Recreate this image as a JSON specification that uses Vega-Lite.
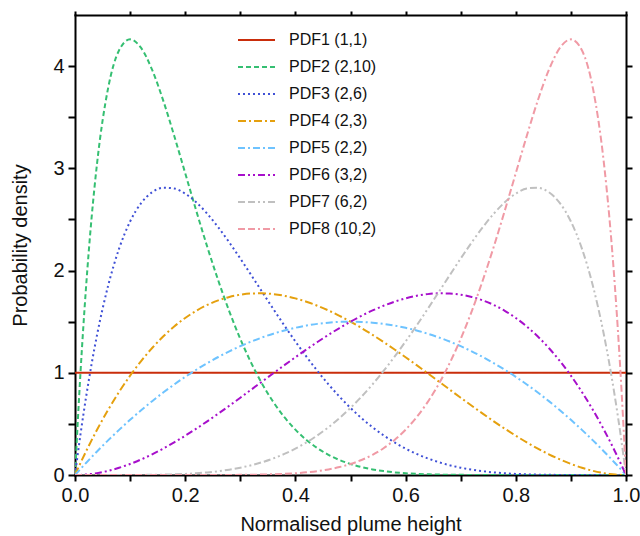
{
  "$schema": "https://vega.github.io/schema/vega-lite/v6.json",
  "width": 551,
  "height": 460,
  "autosize": {"type": "none"},
  "padding": {"left": 75, "top": 15, "right": 14, "bottom": 61},
  "background": "white",
  "config": {
    "view": {"stroke": null},
    "font": "Liberation Sans",
    "axis": {
      "labelFont": "Liberation Sans",
      "titleFont": "Liberation Sans",
      "labelFontSize": 20,
      "titleFontSize": 20,
      "titleFontWeight": "normal",
      "labelColor": "#111",
      "titleColor": "#111",
      "domainColor": "#000",
      "domainWidth": 2,
      "domainCap": "square",
      "tickColor": "#000",
      "tickWidth": 2,
      "grid": false
    },
    "legend": {
      "labelFont": "Liberation Sans",
      "labelFontSize": 16,
      "labelColor": "#111"
    }
  },
  "data": {
    "values": [
      {"x": 0, "p1": 1, "p2": 0, "p3": 0, "p4": 0, "p5": 0, "p6": 0, "p7": 0, "p8": 0},
      {"x": 0.01, "p1": 1, "p2": 1.005, "p3": 0.399, "p4": 0.1176, "p5": 0.0594, "p6": 0.0012, "p7": 0, "p8": 0},
      {"x": 0.02, "p1": 1, "p2": 1.834, "p3": 0.759, "p4": 0.2305, "p5": 0.1176, "p6": 0.0047, "p7": 0, "p8": 0},
      {"x": 0.03, "p1": 1, "p2": 2.509, "p3": 1.082, "p4": 0.3387, "p5": 0.1746, "p6": 0.0105, "p7": 0, "p8": 0},
      {"x": 0.04, "p1": 1, "p2": 3.047, "p3": 1.37, "p4": 0.4424, "p5": 0.2304, "p6": 0.0184, "p7": 0, "p8": 0},
      {"x": 0.06, "p1": 1, "p2": 3.782, "p3": 1.849, "p4": 0.6362, "p5": 0.3384, "p6": 0.0406, "p7": 0, "p8": 0},
      {"x": 0.08, "p1": 1, "p2": 4.155, "p3": 2.2145, "p4": 0.8125, "p5": 0.4416, "p6": 0.0707, "p7": 0.0001, "p8": 0},
      {"x": 0.1, "p1": 1, "p2": 4.2616, "p3": 2.48, "p4": 0.972, "p5": 0.54, "p6": 0.108, "p7": 0.0004, "p8": 0},
      {"x": 0.12, "p1": 1, "p2": 4.1776, "p3": 2.6598, "p4": 1.1151, "p5": 0.6336, "p6": 0.1521, "p7": 0.0009, "p8": 0},
      {"x": 0.14, "p1": 1, "p2": 3.963, "p3": 2.766, "p4": 1.2425, "p5": 0.7224, "p6": 0.2023, "p7": 0.0019, "p8": 0},
      {"x": 0.16, "p1": 1, "p2": 3.665, "p3": 2.81, "p4": 1.3548, "p5": 0.8064, "p6": 0.258, "p7": 0.0037, "p8": 0},
      {"x": 0.18, "p1": 1, "p2": 3.319, "p3": 2.803, "p4": 1.4524, "p5": 0.8856, "p6": 0.3188, "p7": 0.0065, "p8": 0},
      {"x": 0.2, "p1": 1, "p2": 2.953, "p3": 2.7525, "p4": 1.536, "p5": 0.96, "p6": 0.384, "p7": 0.0108, "p8": 0},
      {"x": 0.22, "p1": 1, "p2": 2.586, "p3": 2.668, "p4": 1.6062, "p5": 1.0296, "p6": 0.453, "p7": 0.0169, "p8": 0.0001},
      {"x": 0.24, "p1": 1, "p2": 2.233, "p3": 2.556, "p4": 1.6635, "p5": 1.0944, "p6": 0.5253, "p7": 0.0254, "p8": 0.0002},
      {"x": 0.26, "p1": 1, "p2": 1.903, "p3": 2.423, "p4": 1.7085, "p5": 1.1544, "p6": 0.6003, "p7": 0.0369, "p8": 0.0004},
      {"x": 0.28, "p1": 1, "p2": 1.6016, "p3": 2.2754, "p4": 1.7418, "p5": 1.2096, "p6": 0.6774, "p7": 0.052, "p8": 0.0008},
      {"x": 0.3, "p1": 1, "p2": 1.3317, "p3": 2.1177, "p4": 1.764, "p5": 1.26, "p6": 0.756, "p7": 0.0714, "p8": 0.0015},
      {"x": 0.32, "p1": 1, "p2": 1.0943, "p3": 1.954, "p4": 1.7756, "p5": 1.3056, "p6": 0.8356, "p7": 0.0958, "p8": 0.0026},
      {"x": 0.34, "p1": 1, "p2": 0.8887, "p3": 1.7883, "p4": 1.7772, "p5": 1.3464, "p6": 0.9156, "p7": 0.1259, "p8": 0.0044},
      {"x": 0.36, "p1": 1, "p2": 0.7134, "p3": 1.6234, "p4": 1.7695, "p5": 1.3824, "p6": 0.9953, "p7": 0.1625, "p8": 0.0072},
      {"x": 0.38, "p1": 1, "p2": 0.5659, "p3": 1.4621, "p4": 1.7529, "p5": 1.4136, "p6": 1.0743, "p7": 0.2063, "p8": 0.0113},
      {"x": 0.4, "p1": 1, "p2": 0.4434, "p3": 1.3064, "p4": 1.728, "p5": 1.44, "p6": 1.152, "p7": 0.258, "p8": 0.0173},
      {"x": 0.42, "p1": 1, "p2": 0.3432, "p3": 1.1578, "p4": 1.6955, "p5": 1.4616, "p6": 1.2277, "p7": 0.3184, "p8": 0.0259},
      {"x": 0.44, "p1": 1, "p2": 0.2621, "p3": 1.0177, "p4": 1.6558, "p5": 1.4784, "p6": 1.301, "p7": 0.3879, "p8": 0.0381},
      {"x": 0.46, "p1": 1, "p2": 0.1976, "p3": 0.8871, "p4": 1.6096, "p5": 1.4904, "p6": 1.3712, "p7": 0.4671, "p8": 0.0548},
      {"x": 0.48, "p1": 1, "p2": 0.1468, "p3": 0.7665, "p4": 1.5575, "p5": 1.4976, "p6": 1.4377, "p7": 0.5565, "p8": 0.0774},
      {"x": 0.5, "p1": 1, "p2": 0.1074, "p3": 0.6563, "p4": 1.5, "p5": 1.5, "p6": 1.5, "p7": 0.6563, "p8": 0.1074},
      {"x": 0.52, "p1": 1, "p2": 0.0774, "p3": 0.5565, "p4": 1.4377, "p5": 1.4976, "p6": 1.5575, "p7": 0.7665, "p8": 0.1468},
      {"x": 0.54, "p1": 1, "p2": 0.0548, "p3": 0.4671, "p4": 1.3712, "p5": 1.4904, "p6": 1.6096, "p7": 0.8871, "p8": 0.1976},
      {"x": 0.56, "p1": 1, "p2": 0.0381, "p3": 0.3879, "p4": 1.301, "p5": 1.4784, "p6": 1.6558, "p7": 1.0177, "p8": 0.2621},
      {"x": 0.58, "p1": 1, "p2": 0.0259, "p3": 0.3184, "p4": 1.2277, "p5": 1.4616, "p6": 1.6955, "p7": 1.1578, "p8": 0.3432},
      {"x": 0.6, "p1": 1, "p2": 0.0173, "p3": 0.258, "p4": 1.152, "p5": 1.44, "p6": 1.728, "p7": 1.3064, "p8": 0.4434},
      {"x": 0.62, "p1": 1, "p2": 0.0113, "p3": 0.2063, "p4": 1.0743, "p5": 1.4136, "p6": 1.7529, "p7": 1.4621, "p8": 0.5659},
      {"x": 0.64, "p1": 1, "p2": 0.0072, "p3": 0.1625, "p4": 0.9953, "p5": 1.3824, "p6": 1.7695, "p7": 1.6234, "p8": 0.7134},
      {"x": 0.66, "p1": 1, "p2": 0.0044, "p3": 0.1259, "p4": 0.9156, "p5": 1.3464, "p6": 1.7772, "p7": 1.7883, "p8": 0.8887},
      {"x": 0.68, "p1": 1, "p2": 0.0026, "p3": 0.0958, "p4": 0.8356, "p5": 1.3056, "p6": 1.7756, "p7": 1.954, "p8": 1.0943},
      {"x": 0.7, "p1": 1, "p2": 0.0015, "p3": 0.0714, "p4": 0.756, "p5": 1.26, "p6": 1.764, "p7": 2.1177, "p8": 1.3317},
      {"x": 0.72, "p1": 1, "p2": 0.0008, "p3": 0.052, "p4": 0.6774, "p5": 1.2096, "p6": 1.7418, "p7": 2.2754, "p8": 1.6016},
      {"x": 0.74, "p1": 1, "p2": 0.0004, "p3": 0.0369, "p4": 0.6003, "p5": 1.1544, "p6": 1.7085, "p7": 2.423, "p8": 1.903},
      {"x": 0.76, "p1": 1, "p2": 0.0002, "p3": 0.0254, "p4": 0.5253, "p5": 1.0944, "p6": 1.6635, "p7": 2.556, "p8": 2.233},
      {"x": 0.78, "p1": 1, "p2": 0.0001, "p3": 0.0169, "p4": 0.453, "p5": 1.0296, "p6": 1.6062, "p7": 2.668, "p8": 2.586},
      {"x": 0.8, "p1": 1, "p2": 0, "p3": 0.0108, "p4": 0.384, "p5": 0.96, "p6": 1.536, "p7": 2.7525, "p8": 2.953},
      {"x": 0.82, "p1": 1, "p2": 0, "p3": 0.0065, "p4": 0.3188, "p5": 0.8856, "p6": 1.4524, "p7": 2.803, "p8": 3.319},
      {"x": 0.84, "p1": 1, "p2": 0, "p3": 0.0037, "p4": 0.258, "p5": 0.8064, "p6": 1.3548, "p7": 2.81, "p8": 3.665},
      {"x": 0.86, "p1": 1, "p2": 0, "p3": 0.0019, "p4": 0.2023, "p5": 0.7224, "p6": 1.2425, "p7": 2.766, "p8": 3.963},
      {"x": 0.88, "p1": 1, "p2": 0, "p3": 0.0009, "p4": 0.1521, "p5": 0.6336, "p6": 1.1151, "p7": 2.6598, "p8": 4.1776},
      {"x": 0.9, "p1": 1, "p2": 0, "p3": 0.0004, "p4": 0.108, "p5": 0.54, "p6": 0.972, "p7": 2.48, "p8": 4.2616},
      {"x": 0.92, "p1": 1, "p2": 0, "p3": 0.0001, "p4": 0.0707, "p5": 0.4416, "p6": 0.8125, "p7": 2.2145, "p8": 4.155},
      {"x": 0.94, "p1": 1, "p2": 0, "p3": 0, "p4": 0.0406, "p5": 0.3384, "p6": 0.6362, "p7": 1.849, "p8": 3.782},
      {"x": 0.96, "p1": 1, "p2": 0, "p3": 0, "p4": 0.0184, "p5": 0.2304, "p6": 0.4424, "p7": 1.37, "p8": 3.047},
      {"x": 0.97, "p1": 1, "p2": 0, "p3": 0, "p4": 0.0105, "p5": 0.1746, "p6": 0.3387, "p7": 1.082, "p8": 2.509},
      {"x": 0.98, "p1": 1, "p2": 0, "p3": 0, "p4": 0.0047, "p5": 0.1176, "p6": 0.2305, "p7": 0.759, "p8": 1.834},
      {"x": 0.99, "p1": 1, "p2": 0, "p3": 0, "p4": 0.0012, "p5": 0.0594, "p6": 0.1176, "p7": 0.399, "p8": 1.005},
      {"x": 1, "p1": 1, "p2": 0, "p3": 0, "p4": 0, "p5": 0, "p6": 0, "p7": 0, "p8": 0}
    ]
  },
  "transform": [
    {"fold": ["p1", "p2", "p3", "p4", "p5", "p6", "p7", "p8"], "as": ["series", "density"]}
  ],
  "layer": [
    {
      "mark": {"type": "line", "strokeWidth": 2, "interpolate": "monotone", "clip": true},
      "encoding": {
        "x": {
          "field": "x", "type": "quantitative",
          "scale": {"domain": [0, 1], "nice": false, "zero": false},
          "axis": {
            "orient": "bottom",
            "title": "Normalised plume height",
            "values": [0, 0.1, 0.2, 0.3, 0.4, 0.5, 0.6, 0.7, 0.8, 0.9, 1],
            "labelExpr": "round(datum.value*10) % 2 == 0 ? format(datum.value, '.1f') : ''",
            "tickSize": 6,
            "labelPadding": 4,
            "titlePadding": 9,
            "labelFlush": false,
            "labelOverlap": false
          }
        },
        "y": {
          "field": "density", "type": "quantitative",
          "scale": {"domain": [0, 4.5], "nice": false},
          "axis": {
            "orient": "left",
            "title": "Probability density",
            "values": [0, 0.5, 1, 1.5, 2, 2.5, 3, 3.5, 4],
            "labelExpr": "datum.value % 1 == 0 ? format(datum.value, 'd') : ''",
            "tickSize": 7,
            "labelPadding": 4,
            "titlePadding": 22,
            "labelFlush": false,
            "labelOverlap": false
          }
        },
        "color": {
          "field": "series", "type": "nominal",
          "scale": {
            "domain": ["p1", "p2", "p3", "p4", "p5", "p6", "p7", "p8"],
            "range": ["#c92d0b", "#35bf72", "#3f50d6", "#e5a00e", "#6ec3ff", "#a70fcb", "#c0c0c0", "#f09aa5"]
          },
          "legend": {
            "title": null,
            "orient": "none",
            "legendX": 162,
            "legendY": 15,
            "symbolType": "stroke",
            "symbolSize": 1369,
            "symbolStrokeWidth": 2,
            "labelOffset": 13,
            "rowPadding": 7,
            "clipHeight": 20,
            "labelExpr": "{'p1':'PDF1 (1,1)','p2':'PDF2 (2,10)','p3':'PDF3 (2,6)','p4':'PDF4 (2,3)','p5':'PDF5 (2,2)','p6':'PDF6 (3,2)','p7':'PDF7 (6,2)','p8':'PDF8 (10,2)'}[datum.label]"
          }
        },
        "strokeDash": {
          "field": "series", "type": "nominal",
          "scale": {
            "domain": ["p1", "p2", "p3", "p4", "p5", "p6", "p7", "p8"],
            "range": [[1, 0], [5, 3], [2, 3], [8, 3, 2, 3], [7, 3, 2, 3], [7, 3, 2, 3, 2, 3], [7, 3, 7, 3, 2, 3, 2, 3], [7, 3, 7, 3, 2, 3]]
          },
          "legend": {
            "title": null,
            "orient": "none",
            "legendX": 162,
            "legendY": 15,
            "symbolType": "stroke",
            "symbolSize": 1369,
            "symbolStrokeWidth": 2,
            "labelOffset": 13,
            "rowPadding": 7,
            "clipHeight": 20,
            "labelExpr": "{'p1':'PDF1 (1,1)','p2':'PDF2 (2,10)','p3':'PDF3 (2,6)','p4':'PDF4 (2,3)','p5':'PDF5 (2,2)','p6':'PDF6 (3,2)','p7':'PDF7 (6,2)','p8':'PDF8 (10,2)'}[datum.label]"
          }
        }
      }
    },
    {
      "mark": {"type": "point", "opacity": 0},
      "encoding": {
        "x": {
          "field": "x", "type": "quantitative",
          "axis": {
            "orient": "top",
            "title": null,
            "values": [0, 0.1, 0.2, 0.3, 0.4, 0.5, 0.6, 0.7, 0.8, 0.9, 1],
            "labels": false,
            "tickSize": 4
          }
        },
        "y": {
          "field": "density", "type": "quantitative",
          "axis": {
            "orient": "right",
            "title": null,
            "values": [0, 0.5, 1, 1.5, 2, 2.5, 3, 3.5, 4],
            "labels": false,
            "tickSize": 6
          }
        }
      }
    }
  ],
  "resolve": {"axis": {"x": "independent", "y": "independent"}}
}
